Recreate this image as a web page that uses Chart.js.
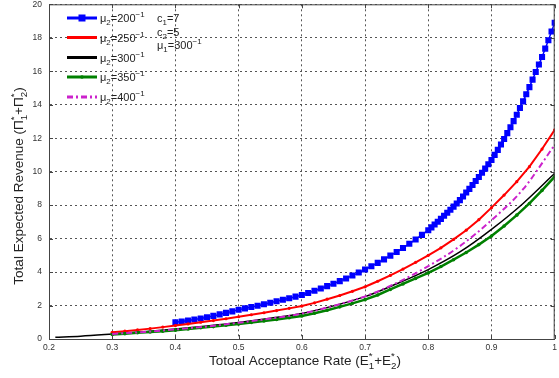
<!DOCTYPE html>
<html><head><meta charset="utf-8">
<script src="https://cdn.jsdelivr.net/npm/chart.js@4/dist/chart.umd.min.js"></script>
<style>html,body{margin:0;padding:0;background:#fff}#wrap{width:559px;height:378px;position:relative}</style>
</head><body><div id="wrap"><canvas id="c"></canvas></div>
<script>
// ---- data ----
const xTicks = [0.2,0.3,0.4,0.5,0.6,0.7,0.8,0.9,1];
const yTicks = [0,2,4,6,8,10,12,14,16,18,20];

const xBlue = [0.40,0.41,0.42,0.43,0.44,0.45,0.46,0.47,0.48,0.49,0.50,0.51,0.52,0.53,0.54,0.55,0.56,0.57,0.58,0.59,0.60,0.61,0.62,0.63,0.64,0.65,0.66,0.67,0.68,0.69,0.70,0.71,0.72,0.73,0.74,0.75,0.76,0.77,0.78,0.79,
  0.800,0.805,0.810,0.815,0.820,0.825,0.830,0.835,0.840,0.845,0.850,0.855,0.860,0.865,0.870,0.875,0.880,0.885,0.890,0.895,
  0.900,0.905,0.910,0.915,0.920,0.925,0.930,0.935,0.940,0.945,0.950,0.955,0.960,0.965,0.970,0.975,0.980,0.985,0.990,0.995,1.000];
const mu200 = [1.00,1.05,1.11,1.17,1.23,1.30,1.38,1.47,1.56,1.65,1.75,1.83,1.91,1.99,2.08,2.17,2.26,2.35,2.44,2.53,2.63,2.75,2.88,3.02,3.16,3.30,3.46,3.62,3.79,3.97,4.15,4.35,4.55,4.76,4.98,5.20,5.44,5.69,5.95,6.22,
  6.50,6.67,6.84,7.01,7.18,7.36,7.54,7.72,7.91,8.10,8.30,8.52,8.75,8.97,9.20,9.44,9.68,9.93,10.18,10.44,
  10.70,11.00,11.30,11.62,11.95,12.30,12.65,13.02,13.40,13.80,14.20,14.62,15.05,15.50,15.95,16.40,16.85,17.35,17.85,18.37,18.90];

const xMid = [0.30,0.32,0.34,0.36,0.38,0.40,0.42,0.44,0.46,0.48,0.50,0.52,0.54,0.56,0.58,0.60,0.62,0.64,0.66,0.68,0.70,0.72,0.74,0.76,0.78,0.80,0.82,0.84,0.86,0.88,0.90,0.92,0.94,0.96,0.98,1.00];
const mu250 = [0.40,0.47,0.54,0.62,0.71,0.80,0.90,1.00,1.10,1.21,1.33,1.45,1.57,1.70,1.83,1.97,2.16,2.38,2.60,2.85,3.12,3.45,3.80,4.18,4.58,5.00,5.45,5.95,6.50,7.13,7.85,8.60,9.40,10.30,11.35,12.50];
const mu350 = [0.27,0.32,0.37,0.42,0.47,0.53,0.60,0.67,0.74,0.82,0.90,0.99,1.08,1.17,1.27,1.38,1.54,1.72,1.92,2.13,2.35,2.63,2.96,3.29,3.62,3.95,4.33,4.74,5.17,5.64,6.15,6.75,7.40,8.10,8.88,9.70];

const xBlack = [0.21,0.25,0.30,0.35,0.40,0.45,0.50,0.55,0.60,0.65,0.70,0.75,0.80,0.85,0.90,0.95,1.00];
const mu300 = [0.10,0.17,0.30,0.44,0.60,0.78,0.99,1.24,1.53,1.98,2.53,3.30,4.15,5.20,6.55,8.10,9.90];

const xMag = [0.30,0.35,0.40,0.45,0.50,0.55,0.60,0.65,0.70,0.75,0.80,0.85,0.90,0.95,1.00];
const mu400 = [0.30,0.42,0.57,0.75,0.97,1.22,1.52,1.98,2.55,3.35,4.35,5.55,7.10,8.95,11.60];

const legendLabels = ['200','250','300','350','400'];

// ---- helpers ----
const pts = (xs, ys) => xs.map((x, i) => ({x: x, y: ys[i]}));
const FONT = '"Liberation Sans", Arial, sans-serif';

function richWidth(ctx, parts, f) {
  let w = 0;
  for (const [m, sup, sub] of parts) {
    ctx.font = f + 'px ' + FONT; w += ctx.measureText(m).width;
    ctx.font = (f * 0.72) + 'px ' + FONT;
    w += Math.max(sup ? ctx.measureText(sup).width : 0, sub ? ctx.measureText(sub).width : 0);
  }
  return w;
}
function richDraw(ctx, x, y, parts, f) {
  ctx.textAlign = 'left'; ctx.textBaseline = 'alphabetic';
  for (const [m, sup, sub] of parts) {
    ctx.font = f + 'px ' + FONT; ctx.fillText(m, x, y); x += ctx.measureText(m).width;
    ctx.font = (f * 0.72) + 'px ' + FONT;
    let w = 0;
    if (sup) { ctx.fillText(sup, x, y - f * 0.42); w = ctx.measureText(sup).width; }
    if (sub) { ctx.fillText(sub, x, y + f * 0.3); w = Math.max(w, ctx.measureText(sub).width); }
    x += w;
  }
  return x;
}

const decor = {
  id: 'decor',
  afterDraw(chart) {
    const ctx = chart.ctx, a = chart.chartArea;
    const xs = chart.scales.x, ys = chart.scales.y;
    ctx.save();
    // box
    ctx.strokeStyle = '#444'; ctx.lineWidth = 1; ctx.setLineDash([]);
    ctx.strokeRect(a.left + 0.5, a.top + 0.5, a.right - a.left - 1, a.bottom - a.top);
    // inner ticks
    ctx.beginPath();
    xTicks.forEach(v => { const p = Math.round(xs.getPixelForValue(v)) + 0.5;
      ctx.moveTo(p, a.bottom); ctx.lineTo(p, a.bottom - 4); ctx.moveTo(p, a.top); ctx.lineTo(p, a.top + 4); });
    yTicks.forEach(v => { const p = Math.round(ys.getPixelForValue(v)) + 0.5;
      ctx.moveTo(a.left, p); ctx.lineTo(a.left + 4, p); ctx.moveTo(a.right, p); ctx.lineTo(a.right - 4, p); });
    ctx.stroke();

    ctx.fillStyle = '#222';
    // x title
    const xp = [['Totoal Acceptance Rate (E', '*', '1'], ['+E', '*', '2'], [')', '', '']];
    const xw = richWidth(ctx, xp, 13.5);
    richDraw(ctx, 305 - xw / 2, 365, xp, 13.5);
    // y title
    const yp = [['Total Expected Revenue (\u03A0', '*', '1'], ['+\u03A0', '*', '2'], [')', '', '']];
    const yw = richWidth(ctx, yp, 13.5);
    ctx.save(); ctx.translate(23, 186); ctx.rotate(-Math.PI / 2);
    richDraw(ctx, -yw / 2, 0, yp, 13.5); ctx.restore();

    // legend
    const rows = [18, 37.5, 57.5, 77, 97];
    chart.data.datasets.forEach((ds, i) => {
      const cy = rows[i];
      ctx.save();
      ctx.strokeStyle = ds.borderColor; ctx.lineWidth = ds.legendWidth;
      ctx.setLineDash(ds.borderDash || []);
      ctx.beginPath(); ctx.moveTo(67, cy); ctx.lineTo(97, cy); ctx.stroke();
      ctx.setLineDash([]);
      if (ds.pointRadius > 0) {
        ctx.fillStyle = ds.pointBackgroundColor;
        if (ds.pointStyle === 'rect') ctx.fillRect(82 - 3.5, cy - 3.5, 7, 7);
        else { ctx.beginPath(); ctx.arc(82, cy, ds.pointRadius, 0, Math.PI * 2); ctx.fill(); }
      }
      ctx.restore();
      ctx.fillStyle = '#222';
      richDraw(ctx, 100, cy + 4, [['\u03BC', '', '2'], ['=' + legendLabels[i], '\u22121', '']], 11);
    });
    ctx.fillStyle = '#222';
    richDraw(ctx, 157, 22, [['c', '', '1'], ['=7', '', '']], 11);
    richDraw(ctx, 157, 35.5, [['c', '', '2'], ['=5', '', '']], 11);
    richDraw(ctx, 157, 49, [['\u03BC', '', '1'], ['=300', '\u22121', '']], 11);
    ctx.restore();
  }
};

const gridCommon = { color: '#555', lineWidth: 1, drawTicks: false };
new Chart(document.getElementById('c'), {
  type: 'line',
  data: {
    datasets: [
      { data: pts(xBlue, mu200), borderColor: '#0000ff', backgroundColor: '#0000ff', borderWidth: 1.5,
        pointStyle: 'rect', pointRadius: 4.3, pointBackgroundColor: '#0000ff', pointBorderColor: '#0000ff', pointBorderWidth: 0,
        legendWidth: 3, order: 5 },
      { data: pts(xMid, mu250), borderColor: '#ff0000', backgroundColor: '#ff0000', borderWidth: 2,
        pointStyle: 'circle', pointRadius: 1.6, pointBackgroundColor: '#ff0000', pointBorderWidth: 0,
        legendWidth: 3, order: 4 },
      { data: pts(xBlack, mu300), borderColor: '#000000', borderWidth: 1.5, pointRadius: 0,
        tension: 0.4, cubicInterpolationMode: 'monotone', legendWidth: 3, order: 3 },
      { data: pts(xMid, mu350), borderColor: '#008000', backgroundColor: '#008000', borderWidth: 2.5,
        pointStyle: 'circle', pointRadius: 1.8, pointBackgroundColor: '#008000', pointBorderWidth: 0,
        legendWidth: 3, order: 2 },
      { data: pts(xMag, mu400), borderColor: '#cc22cc', borderWidth: 2, borderDash: [6, 3, 2, 3], pointRadius: 0,
        tension: 0.4, cubicInterpolationMode: 'monotone', legendWidth: 3, order: 1 }
    ]
  },
  options: {
    responsive: true, maintainAspectRatio: false, animation: false,
    layout: { padding: { left: 0, top: 4, right: 1, bottom: 0 } },
    plugins: { legend: { display: false }, tooltip: { enabled: false } },
    scales: {
      x: { type: 'linear', min: 0.2, max: 1.0,
        afterBuildTicks: s => { s.ticks = xTicks.map(v => ({value: v})); },
        afterFit: s => { s.height = 39; s.paddingLeft = 0; s.paddingRight = 0; },
        grid: gridCommon, border: { display: true, color: '#444', dash: [2, 3] },
        ticks: { padding: 4, color: '#333', font: { size: 8.5, family: FONT }, maxRotation: 0,
          callback: v => String(Math.round(v * 10) / 10) } },
      y: { type: 'linear', min: 0, max: 20,
        afterBuildTicks: s => { s.ticks = yTicks.map(v => ({value: v})); },
        afterFit: s => { s.width = 49; s.paddingTop = 0; s.paddingBottom = 0; },
        grid: gridCommon, border: { display: true, color: '#444', dash: [2, 3] },
        ticks: { padding: 7, color: '#333', font: { size: 8.5, family: FONT },
          callback: v => String(v) } }
    }
  },
  plugins: [decor]
});
</script></body></html>
